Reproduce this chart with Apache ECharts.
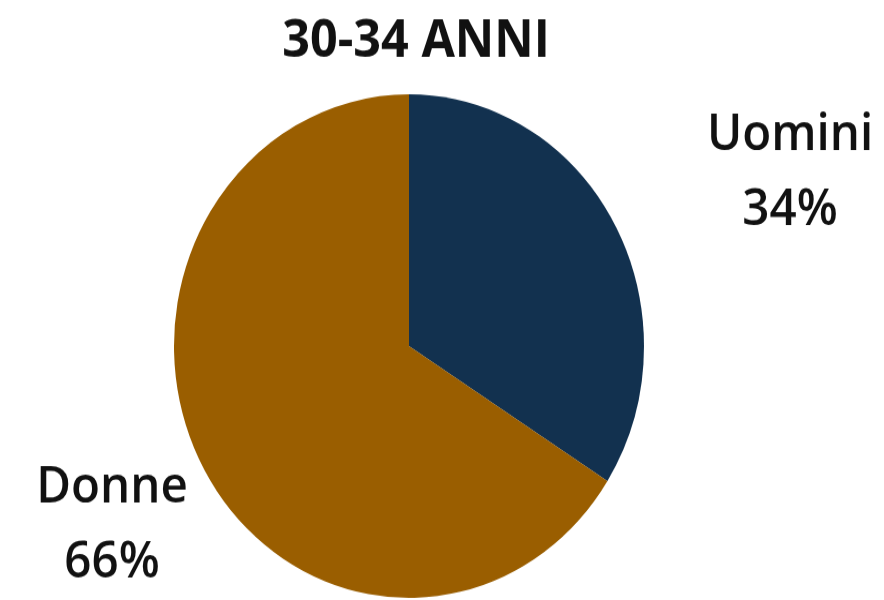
<!DOCTYPE html>
<html>
<head>
<meta charset="utf-8">
<style>
  html, body { margin: 0; padding: 0; background: #ffffff; width: 884px; height: 600px; overflow: hidden; }
  /* the figure is drawn slightly taller than wide: the pie is an oval */
  #chart { width: 884px; height: 560px; transform: scaleY(1.0714); transform-origin: 0 0; }
</style>
<script src="https://cdn.jsdelivr.net/npm/echarts@6/dist/echarts.min.js"></script>
</head>
<body>
<div id="chart"></div>
<script>
const titleText = '30-34 ANNI';
const categories = ['Uomini', 'Donne'];
const shares = [34, 66];
const colors = ['#12314F', '#9A5E00'];

const chart = echarts.init(document.getElementById('chart'), null, { renderer: 'canvas' });

// label anchors (canvas pixels) for each slice, in category order
const labelAnchors = [[790, 161], [112, 490]];

chart.setOption({
  animation: false,
  backgroundColor: '#ffffff',
  title: {
    text: titleText,
    left: 411,
    textAlign: 'center',
    top: 10,
    textStyle: { fontFamily: 'Open Sans', fontWeight: 'bold', fontSize: 48.5, color: '#111111' }
  },
  series: [{
    type: 'pie',
    center: [409, 323],
    radius: [0, 235],
    startAngle: 90,
    clockwise: true,
    silent: true,
    data: categories.map((name, i) => ({ name, value: shares[i], itemStyle: { color: colors[i] } })),
    label: {
      show: true,
      formatter: p => p.name + '\n' + p.value + '%',
      fontFamily: 'Open Sans',
      fontWeight: 600,
      fontSize: 47.5,
      lineHeight: 70,
      color: '#111111',
      align: 'center',
      overflow: 'none',
      width: 300
    },
    labelLine: { show: false },
    labelLayout: p => ({
      x: labelAnchors[p.dataIndex][0],
      y: labelAnchors[p.dataIndex][1],
      align: 'center',
      verticalAlign: 'middle'
    })
  }]
});
</script>
</body>
</html>
